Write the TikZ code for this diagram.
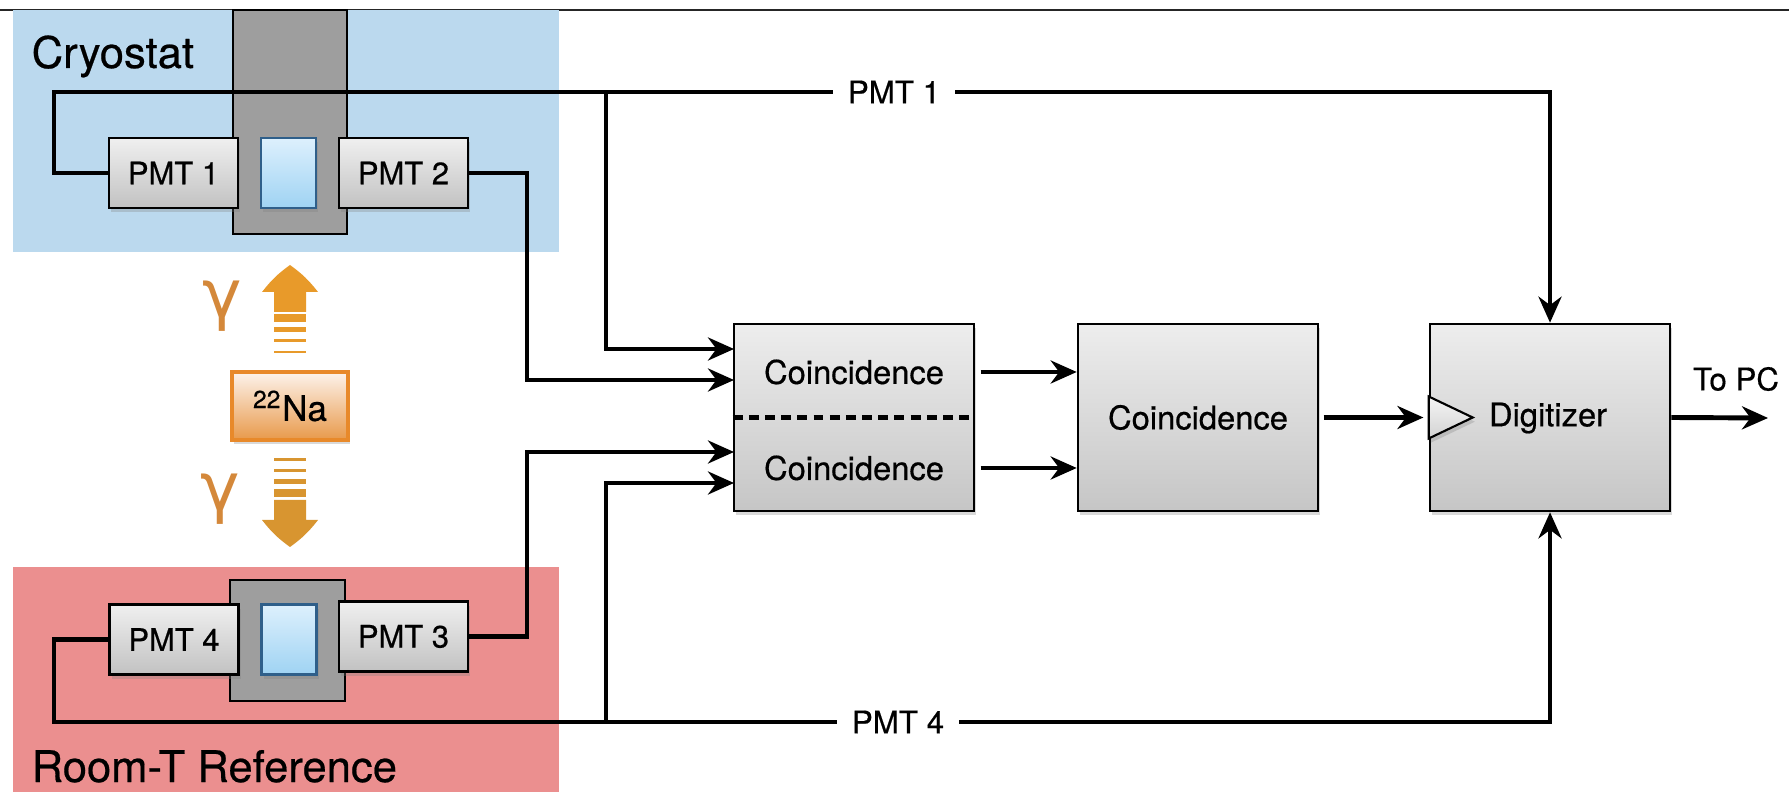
\documentclass[tikz,border=0pt]{standalone}
\usepackage{fontspec}
\setmainfont{TeX Gyre Heros}[FakeBold=0.5]
\newfontfamily\gammafont{DejaVu Sans}
\usetikzlibrary{arrows.meta}
\usetikzlibrary{shadows}

\definecolor{cryoblue}{HTML}{BBD9EE}
\definecolor{roomred}{HTML}{EB8F8F}
\definecolor{mountgray}{HTML}{9E9E9E}
\definecolor{naedge}{HTML}{E8892A}
\definecolor{natop}{HTML}{FDF3EC}
\definecolor{nabottom}{HTML}{E8994A}
\definecolor{gamcol}{HTML}{D4883A}
\definecolor{upcol}{HTML}{E89A2A}
\definecolor{downcol}{HTML}{D89530}
\definecolor{xtaledge}{HTML}{2F5F8A}
\definecolor{xtaltop}{HTML}{DDF0FD}
\definecolor{xtalbottom}{HTML}{9FD3F3}

\tikzset{
  boxshadow/.style={drop shadow={shadow xshift=0.6pt,shadow yshift=-1.2pt,opacity=0.3}},
  pmt/.style={draw,line width=0.7pt,top color=gray!12,bottom color=gray!48,
    minimum width=1.29cm,minimum height=0.70cm,inner sep=0pt,boxshadow,
    font=\fontsize{8.8}{10}\selectfont},
  xtal/.style={draw=xtaledge,line width=0.8pt,top color=xtaltop,bottom color=xtalbottom,
    minimum width=0.55cm,minimum height=0.70cm,inner sep=0pt,boxshadow},
  logic/.style={draw,line width=0.7pt,top color=gray!14,bottom color=gray!45,
    minimum width=2.40cm,minimum height=1.87cm,inner sep=0pt,boxshadow},
  wire/.style={line width=1.4pt},
  sig/.style={wire,-{Stealth[length=0.26cm,width=0.23cm]}},
  wirelabel/.style={fill=white,inner xsep=0.15cm,inner ysep=1pt,font=\fontsize{8.9}{10}\selectfont},
  boxtext/.style={font=\fontsize{9.3}{11}\selectfont},
  region/.style={font=\fontsize{12.4}{14}\selectfont,anchor=base west,inner sep=0pt},
  gam/.style={text=gamcol,font=\gammafont\fontsize{19}{19}\selectfont,inner sep=0pt}
}

\begin{document}
\begin{tikzpicture}[x=0.01cm,y=-0.01cm]
  \useasboundingbox (0,0) rectangle (1789,792);
  % rule along the top
  \draw[line width=0.8pt,black!85] (0,10) -- (1789,10);
  % cryostat and room temperature areas
  \fill[cryoblue] (13,10) rectangle (559,252);
  \fill[roomred] (13,567) rectangle (559,792);
  \filldraw[fill=mountgray,line width=0.6pt] (233,10) rectangle (347,234);
  \filldraw[fill=mountgray,line width=0.6pt] (230,580) rectangle (345,701);
  \node[region] (cryolabel) at (31,68) {Cryostat};
  \node[region] (roomlabel) at (31,782) {Room-T Reference};

  % detectors
  \node[pmt] (pmt1) at (173.5,173) {PMT 1};
  \node[xtal] (xtal1) at (288.5,173) {};
  \node[pmt] (pmt2) at (403.5,173) {PMT 2};
  \node[pmt] (pmt4) at (174,639.5) {PMT 4};
  \node[xtal] (xtal2) at (289,639.5) {};
  \node[pmt] (pmt3) at (403.5,636.5) {PMT 3};

  % source with the two gammas
  \node[draw=naedge,line width=1pt,top color=natop,bottom color=nabottom,
    minimum width=1.16cm,minimum height=0.68cm,inner sep=0pt,boxshadow,
    font=\fontsize{10}{12}\selectfont] (na) at (290,406) {\textsuperscript{22}Na};
  \fill[upcol] (290,265) to[bend left=8] (318,292) -- (306,292) -- (306,312)
    -- (274,312) -- (274,292) -- (262,292) to[bend left=8] cycle;
  \foreach \ya/\yb in {314/322,327/332,339/342,351/353}
    \fill[upcol] (274,\ya) rectangle (306,\yb);
  \fill[downcol] (290,547) to[bend right=8] (318,520) -- (306,520) -- (306,500)
    -- (274,500) -- (274,520) -- (262,520) to[bend right=8] cycle;
  \foreach \ya/\yb in {458/461,469/472,479/484,489/497}
    \fill[downcol] (274,\ya) rectangle (306,\yb);
  \node[gam] (gamup) at (222,306) {γ};
  \node[gam] (gamdown) at (220,499) {γ};

  % electronics
  \node[logic] (coinc) at (854,417.5) {};
  \draw[line width=1.4pt,dash pattern=on 2.8pt off 1.8pt] (coinc.west) -- (coinc.east);
  \node[boxtext] (cup) at (854,372) {Coincidence};
  \node[boxtext] (clo) at (854,468) {Coincidence};
  \node[logic,boxtext] (coinc2) at (1198,417.5) {Coincidence};
  \node[logic] (digi) at (1550,417.5) {};
  \filldraw[line width=0.6pt,top color=gray!8,bottom color=gray!35,boxshadow]
    (digi.west) ++(0,-21) -- ++(44,21) -- ++(-44,21) -- cycle;
  \node[boxtext] (digitext) at (1548,418) {Digitizer};

  % cabling
  \coordinate (jA) at (606,92);
  \coordinate (jD) at (606,722);
  \coordinate (kB) at (527,380);
  \coordinate (kC) at (527,452);
  \coordinate (inA) at (734,349);
  \coordinate (inB) at (734,380);
  \coordinate (inC) at (734,452);
  \coordinate (inD) at (734,483);
  \coordinate (topc) at (1768,418);
  \draw[sig] (pmt1.west) -| (54,92) -| (digi.north);
  \node[wirelabel] (lab1) at (894,92) {PMT 1};
  \draw[sig] (jA) |- (inA);
  \draw[sig] (pmt2.east) -| (kB) -- (inB);
  \draw[sig] (pmt3.east) -| (kC) -- (inC);
  \draw[sig] (pmt4.west) -| (54,722) -| (digi.south);
  \node[wirelabel] (lab4) at (898,722) {PMT 4};
  \draw[sig] (jD) |- (inD);
  \draw[sig,shorten <=1.5pt] (cup -| coinc.east) -- (cup -| coinc2.west);
  \draw[sig,shorten <=1.5pt] (clo -| coinc.east) -- (clo -| coinc2.west);
  \draw[sig,shorten <=1.2pt,shorten >=1.5pt] (coinc2.east) -- (digi.west);
  \draw[sig] (digi.east) -- (topc);
  \node[font=\fontsize{8.9}{10}\selectfont] (pclabel) at (1736,379) {To PC};
\end{tikzpicture}
\end{document}
